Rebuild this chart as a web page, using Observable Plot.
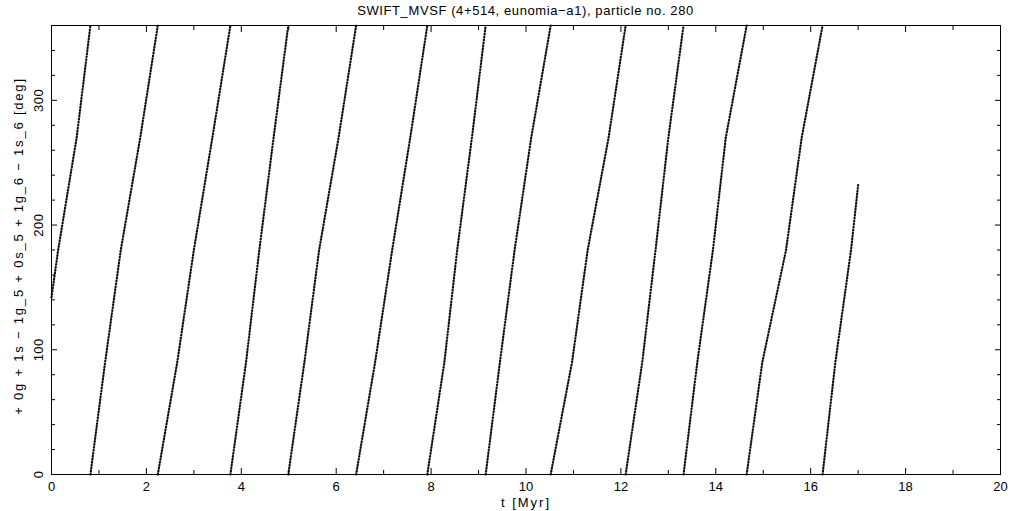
<!DOCTYPE html>
<html><head><meta charset="utf-8">
<script src="https://cdn.jsdelivr.net/npm/d3@7"></script>
<script src="https://cdn.jsdelivr.net/npm/@observablehq/plot@0.6"></script>
<style>
body{margin:0;background:#fff;font-family:"Liberation Sans",Arial,sans-serif;}
#title{height:20px;line-height:21px;font-size:13px;letter-spacing:0.6px;text-align:center;margin-left:51px;width:949px;color:#000;white-space:nowrap;}
</style></head><body>
<div id="title"></div>
<div id="chart"></div>
<script>
const titleText = "SWIFT_MVSF (4+514, eunomia\u2212a1), particle no. 280";
const xLabel = "t [Myr]";
const yLabel = "+ 0g + 1s \u2212 1g_5 + 0s_5 + 1g_6 \u2212 1s_6 [deg]";
const xMajorTicks = [0, 2, 4, 6, 8, 10, 12, 14, 16, 18, 20];
const xMinorTicks = [1, 3, 5, 7, 9, 11, 13, 15, 17, 19];
const yMajorTicks = [0, 100, 200, 300];
const yMinorTicks = [20, 40, 60, 80, 120, 140, 160, 180, 220, 240, 260, 280, 320, 340];

// times (Myr) and angles (deg) read along each wrap of the resonant angle
const segmentTimes = [
  [0.00, 0.14, 0.53, 0.82],
  [0.82, 1.13, 1.46, 1.87, 2.24],
  [2.24, 2.65, 3.00, 3.39, 3.77],
  [3.77, 4.10, 4.38, 4.68, 4.99],
  [4.99, 5.33, 5.64, 6.05, 6.42],
  [6.42, 6.82, 7.18, 7.56, 7.92],
  [7.92, 8.28, 8.55, 8.86, 9.15],
  [9.15, 9.45, 9.76, 10.11, 10.52],
  [10.52, 10.97, 11.30, 11.74, 12.10],
  [12.10, 12.45, 12.73, 13.00, 13.32],
  [13.32, 13.61, 13.94, 14.21, 14.65],
  [14.65, 14.98, 15.48, 15.81, 16.25],
  [16.25, 16.52, 16.85, 17.00]
];
const segmentAngles = [
  [142, 180, 270, 360],
  [0, 90, 180, 270, 360],
  [0, 90, 180, 270, 360],
  [0, 90, 180, 270, 360],
  [0, 90, 180, 270, 360],
  [0, 90, 180, 270, 360],
  [0, 90, 180, 270, 360],
  [0, 90, 180, 270, 360],
  [0, 90, 180, 270, 360],
  [0, 90, 180, 270, 360],
  [0, 90, 180, 270, 360],
  [0, 90, 180, 270, 360],
  [0, 90, 180, 232]
];

document.getElementById("title").textContent = titleText;
const rows = segmentTimes.flatMap((ts, i) => ts.map((t, j) => ({seg: i, t, angle: segmentAngles[i][j]})));
const blank = () => "";

const chart = Plot.plot({
  width: 1021, height: 491,
  marginLeft: 51, marginRight: 21, marginTop: 5, marginBottom: 37,
  style: {fontFamily: "Liberation Sans, Arial, sans-serif", fontSize: "13px", color: "black", background: "white"},
  x: {domain: [0, 20]},
  y: {domain: [0, 360]},
  marks: [
    Plot.line(rows, {x: "t", y: "angle", z: "seg", stroke: "#111", strokeWidth: 2.2, strokeDasharray: "0.7,2.3"}),
    Plot.frame({stroke: "black", strokeWidth: 1}),
    Plot.axisX({anchor: "bottom", ticks: xMajorTicks, tickSize: 6, dy: -6, tickFormat: blank, label: null}),
    Plot.axisX({anchor: "bottom", ticks: xMinorTicks, tickSize: 4, dy: -4, tickFormat: blank, label: null}),
    Plot.axisX({anchor: "top", ticks: xMajorTicks, tickSize: 6, dy: 6, tickFormat: blank, label: null}),
    Plot.axisX({anchor: "top", ticks: xMinorTicks, tickSize: 4, dy: 4, tickFormat: blank, label: null}),
    Plot.axisY({anchor: "left", ticks: yMajorTicks, tickSize: 6, dx: 6, tickFormat: blank, label: null}),
    Plot.axisY({anchor: "left", ticks: yMinorTicks, tickSize: 4, dx: 4, tickFormat: blank, label: null}),
    Plot.axisY({anchor: "right", ticks: yMajorTicks, tickSize: 6, dx: -6, tickFormat: blank, label: null}),
    Plot.axisY({anchor: "right", ticks: yMinorTicks, tickSize: 4, dx: -4, tickFormat: blank, label: null}),
    Plot.axisX({anchor: "bottom", ticks: xMajorTicks, tickSize: 0, tickPadding: 7, tickFormat: d => String(d),
      label: null}),
    Plot.text([xLabel], {text: d => d, frameAnchor: "bottom", lineAnchor: "middle", textAnchor: "middle", dy: 28, fontSize: 13}),
    Plot.text(yMajorTicks, {y: d => d, text: d => String(d), frameAnchor: "left", textAnchor: "middle", lineAnchor: "middle", dx: -13, rotate: -90, fontSize: 13}),
    Plot.text([yLabel], {text: d => d, frameAnchor: "left", textAnchor: "middle", lineAnchor: "middle", dx: -33, dy: -4, rotate: -90, fontSize: 13})
  ]
});
d3.select(chart).selectAll("text").each(function() {
  const s = this.textContent;
  if (s === yLabel) this.style.letterSpacing = "1.8px";
  else if (s === xLabel) this.style.letterSpacing = "2px";
  else if (yMajorTicks.map(String).includes(s) && this.getAttribute("transform") && this.getAttribute("transform").includes("rotate")) this.style.letterSpacing = "0.5px";
});
document.getElementById("chart").appendChild(chart);
</script>
</body></html>
